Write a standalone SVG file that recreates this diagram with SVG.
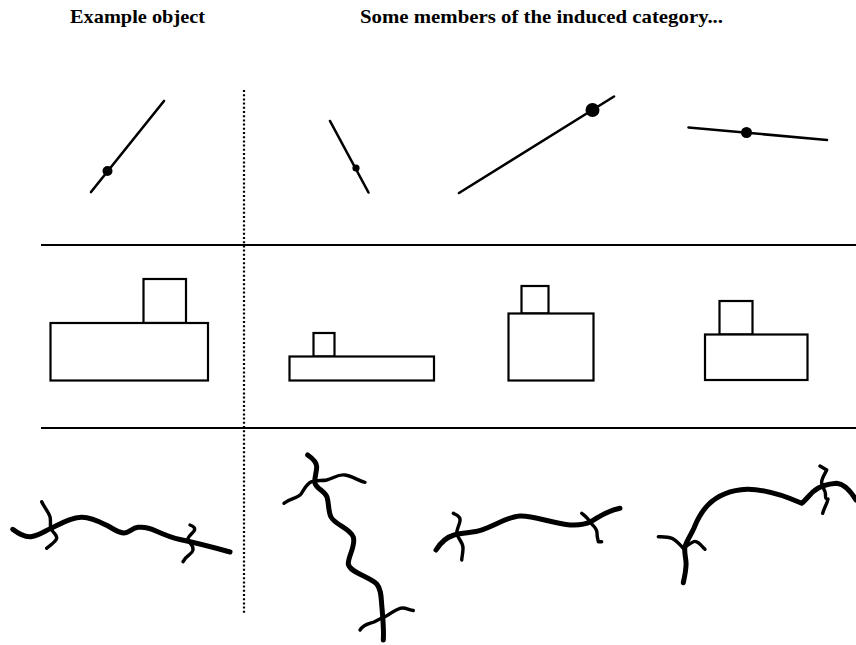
<svg xmlns="http://www.w3.org/2000/svg" width="856" height="645" viewBox="0 0 856 645">
<style>
.t{font-family:"Liberation Serif","Times New Roman",serif;font-weight:bold;font-size:19px;fill:#000}
.ln{stroke:#000;stroke-width:2.6;stroke-linecap:round;fill:none}
.sep{stroke:#000;stroke-width:2;fill:none}
.dot{stroke:#000;stroke-width:2.2;stroke-dasharray:2 2.2;fill:none}
.box{stroke:#000;stroke-width:2.2;fill:#fff}
.main{stroke:#000;stroke-width:5;stroke-linecap:round;stroke-linejoin:round;fill:none}
.br{stroke:#000;stroke-width:3.4;stroke-linecap:round;stroke-linejoin:round;fill:none}
</style>
<rect width="856" height="645" fill="#fff"/>
<g id="headers">
<text class="t" x="70" y="23" textLength="135" lengthAdjust="spacingAndGlyphs">Example object</text>
<text class="t" x="360" y="23" textLength="363" lengthAdjust="spacingAndGlyphs">Some members of the induced category...</text>
</g>
<g id="grid">
<line class="sep" x1="41" y1="245" x2="856" y2="245"/>
<line class="sep" x1="41" y1="428" x2="856" y2="428"/>
<line class="dot" x1="244" y1="90" x2="244" y2="613"/>
</g>
<g id="row1-example">
<line class="ln" x1="91" y1="192" x2="164" y2="101"/>
<circle cx="107.5" cy="171" r="5" fill="#000"/>
</g>
<g id="row1-member1">
<line class="ln" x1="330" y1="121" x2="368.5" y2="192.5"/>
<circle cx="356" cy="168" r="3.6" fill="#000"/>
</g>
<g id="row1-member2">
<line class="ln" x1="459" y1="193" x2="614" y2="96.5"/>
<circle cx="592.5" cy="110" r="7" fill="#000"/>
</g>
<g id="row1-member3">
<line class="ln" x1="688.5" y1="127.5" x2="827" y2="140"/>
<circle cx="746.5" cy="132.5" r="5.5" fill="#000"/>
</g>
<g id="row2-example">
<rect class="box" x="143.5" y="279" width="42.5" height="44"/>
<rect class="box" x="50.5" y="323" width="157.5" height="57.5"/>
</g>
<g id="row2-member1">
<rect class="box" x="313.5" y="333" width="21" height="23.5"/>
<rect class="box" x="289.5" y="356.5" width="144.5" height="24"/>
</g>
<g id="row2-member2">
<rect class="box" x="521.5" y="286" width="27" height="27.5"/>
<rect class="box" x="508.5" y="313.5" width="85" height="67"/>
</g>
<g id="row2-member3">
<rect class="box" x="719.5" y="301" width="33" height="33.5"/>
<rect class="box" x="705" y="334.5" width="102.5" height="45.5"/>
</g>
<g id="row3-example">
<path class="main" d="M12.7,529.3 C20,535 26,537.5 32,536.5 C40,535 45,531 51,528.3 C62,523 72,517 82,517.3 C92,517.5 100,522 108,526 C115,530 119,533 124,533 C129,533 132,528 138,527.3 C145,526.5 150,528 156,531 C165,535 172,538 180,539.5 C192,542 205,545 230,552"/>
<path class="br" d="M41.7,501.7 C44,507 48,511 50,516.7 C51,521 50,525 50.7,528.3 C52,532 57,534 56.7,538.3 C56,542 50,545 46.7,548.3"/>
<path class="br" d="M190,525 C193,526 196,528 194,531 C191,535 187,537 188,540 C189,543 194,545 193,550 C192,555 186,555 183,561.7"/>
</g>
<g id="row3-member1">
<path class="main" d="M307.7,455 C312,458 317,462 316.7,467 C316.5,473 314,479 315,483.3 C317,489 325,491 327,497 C329,503 328,511 331,517 C335,525 350,528 353.3,537 C356,546 348,556 348.3,564 C349,572 370,577 376.7,584 C382,590 381,600 382,608 C383,620 384,630 383.3,640"/>
<path class="br" d="M284,503.3 C290,498 297,499 301,494 C304,490 306,484 311.7,481.7 C317,480 322,481 326.7,480 C334,478 338,474 345,475 C353,476 358,481 365,482.3"/>
<path class="br" d="M360,630 C364,624 369,624 374,622 C378,620 381,618 385,616.7 C391,614 394,610 400,608.3 C405,607 409,610 413.3,610.5"/>
</g>
<g id="row3-member2">
<path class="main" d="M436,550 C441,542 447,537 454,535 C462,532.5 468,533 476,531.5 C490,529 505,517 520,516 C533,515.5 548,522 566,524.5 C578,526 586,524 591,521.5 C598,518 603,512 620,508.3"/>
<path class="br" d="M453.3,513.3 C456,515 461,516 460,521 C459,527 456,529 457,534 C458,539 463,542 463,548 C463,553 462,556 461.7,560"/>
<path class="br" d="M581.7,513.3 C585,516 588,518 590,522 C593,526 597,528 597,533 C597,537 598,540 598.3,541.7 L601.7,541.7"/>
</g>
<g id="row3-member3">
<path class="main" d="M683.3,582.7 C685,575 686.5,568 686,562 C685.5,556 684,551 685,546.7 C687,540 691,535 694,528 C698,518 702,511 708,505 C718,495 731,490 747,489.3 C765,489 785,496 801.7,503.3 C806,500 810,494 814,491 C820,486 826,484 836.7,483.3 C844,484 850,490 856,500"/>
<path class="br" d="M658.3,536.7 C664,537 668,537 672,538.3 C677,541 680,545 683.3,548.3 C687,546 690,543 694,541.5 C697,540.5 700,544 705,549.3"/>
<path class="br" d="M820,466 L826.7,470 C825,474 821,479 821.7,483.3 C822,488 826,490 825.5,495 C825,500 828,499 828,499 C827,504 824,508 822.7,513.3"/>
</g>
</svg>
